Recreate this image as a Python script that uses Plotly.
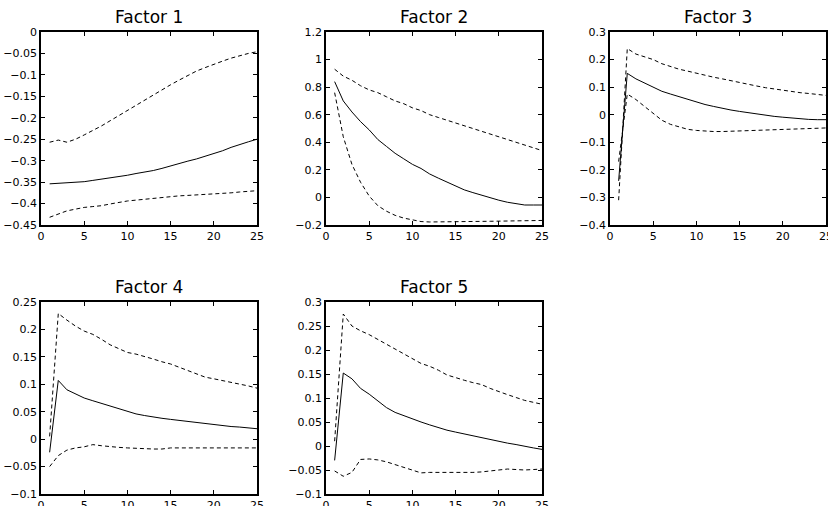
import plotly.graph_objects as go

steps = list(range(1, 26))

titles = ["Factor 1", "Factor 2", "Factor 3", "Factor 4", "Factor 5"]

f1_mid = [-0.354, -0.353, -0.352, -0.351, -0.349, -0.346, -0.343, -0.341, -0.338, -0.334,
          -0.330, -0.327, -0.323, -0.318, -0.312, -0.307, -0.301, -0.296, -0.290, -0.284,
          -0.277, -0.269, -0.262, -0.256, -0.250]
f1_up = [-0.257, -0.252, -0.257, -0.250, -0.240, -0.230, -0.219, -0.207, -0.195, -0.183,
         -0.170, -0.158, -0.146, -0.135, -0.123, -0.112, -0.101, -0.091, -0.083, -0.075,
         -0.068, -0.061, -0.055, -0.050, -0.046]
f1_lo = [-0.432, -0.424, -0.417, -0.413, -0.409, -0.407, -0.405, -0.401, -0.397, -0.394,
         -0.392, -0.390, -0.387, -0.385, -0.383, -0.382, -0.381, -0.380, -0.379, -0.378,
         -0.376, -0.375, -0.373, -0.371, -0.370]

f2_mid = [0.84, 0.70, 0.62, 0.55, 0.49, 0.42, 0.37, 0.32, 0.28, 0.24, 0.21, 0.17, 0.14,
          0.11, 0.08, 0.055, 0.035, 0.015, -0.005, -0.02, -0.035, -0.045, -0.055, -0.055, -0.055]
f2_up = [0.93, 0.88, 0.85, 0.81, 0.78, 0.76, 0.73, 0.70, 0.68, 0.65, 0.63, 0.60, 0.58,
         0.56, 0.54, 0.52, 0.50, 0.48, 0.46, 0.44, 0.42, 0.40, 0.38, 0.36, 0.34]
f2_lo = [0.76, 0.44, 0.24, 0.11, 0.01, -0.06, -0.10, -0.13, -0.15, -0.165, -0.175, -0.178,
         -0.178, -0.177, -0.177, -0.176, -0.175, -0.174, -0.173, -0.172, -0.171, -0.170,
         -0.169, -0.168, -0.167]

f3_mid = [-0.24, 0.15, 0.13, 0.115, 0.10, 0.085, 0.075, 0.065, 0.055, 0.045, 0.037, 0.030,
          0.023, 0.017, 0.012, 0.007, 0.002, -0.002, -0.006, -0.009, -0.012, -0.015, -0.017,
          -0.018, -0.018]
f3_up = [-0.31, 0.24, 0.22, 0.21, 0.20, 0.185, 0.175, 0.165, 0.158, 0.15, 0.143, 0.136, 0.13,
         0.123, 0.117, 0.11, 0.104, 0.098, 0.093, 0.088, 0.084, 0.08, 0.077, 0.073, 0.07]
f3_lo = [-0.17, 0.075, 0.055, 0.03, 0.005, -0.02, -0.035, -0.045, -0.053, -0.057, -0.06,
         -0.061, -0.061, -0.06, -0.058, -0.057, -0.056, -0.055, -0.054, -0.053, -0.052,
         -0.051, -0.05, -0.049, -0.048]

f4_mid = [-0.024, 0.107, 0.09, 0.083, 0.075, 0.07, 0.065, 0.06, 0.055, 0.05, 0.046, 0.043,
          0.04, 0.038, 0.036, 0.034, 0.032, 0.030, 0.028, 0.027, 0.025, 0.023, 0.022, 0.021, 0.019]
f4_up = [0.005, 0.229, 0.217, 0.206, 0.197, 0.191, 0.182, 0.172, 0.165, 0.158, 0.155, 0.151,
         0.146, 0.141, 0.137, 0.131, 0.125, 0.118, 0.113, 0.110, 0.107, 0.104, 0.101, 0.097, 0.093]
f4_lo = [-0.05, -0.03, -0.02, -0.016, -0.014, -0.01, -0.012, -0.014, -0.015, -0.016, -0.017,
         -0.017, -0.018, -0.018, -0.016, -0.016, -0.016, -0.017, -0.017, -0.016, -0.016,
         -0.016, -0.017, -0.016, -0.016]

f5_mid = [-0.03, 0.152, 0.14, 0.12, 0.108, 0.093, 0.08, 0.07, 0.063, 0.057, 0.05, 0.044, 0.038,
          0.033, 0.029, 0.025, 0.021, 0.017, 0.013, 0.009, 0.006, 0.003, -0.001, -0.004, -0.007]
f5_up = [0.01, 0.275, 0.25, 0.24, 0.232, 0.222, 0.212, 0.203, 0.193, 0.182, 0.172, 0.166,
         0.158, 0.148, 0.142, 0.137, 0.132, 0.128, 0.12, 0.113, 0.107, 0.101, 0.095, 0.091, 0.087]
f5_lo = [-0.052, -0.063, -0.055, -0.028, -0.027, -0.029, -0.033, -0.039, -0.045, -0.051,
         -0.056, -0.055, -0.055, -0.055, -0.056, -0.056, -0.055, -0.054, -0.052, -0.050,
         -0.048, -0.049, -0.050, -0.049, -0.048]

y_ranges = [(-0.45, 0), (-0.2, 1.2), (-0.4, 0.3), (-0.1, 0.25), (-0.1, 0.3)]
y_dticks = [0.05, 0.2, 0.1, 0.05, 0.05]

series = [(f1_mid, f1_up, f1_lo), (f2_mid, f2_up, f2_lo), (f3_mid, f3_up, f3_lo),
          (f4_mid, f4_up, f4_lo), (f5_mid, f5_up, f5_lo)]

W, H = 828, 506
col_px = [(41, 257), (326, 542), (610, 826)]
row_px = [(32, 225), (302, 494)]
positions = [(0, 0), (0, 1), (0, 2), (1, 0), (1, 1)]

fig = go.Figure()
font = "DejaVu Sans, Arial, Helvetica, sans-serif"

for i, ((mid, up, lo), (r, c)) in enumerate(zip(series, positions)):
    n = i + 1
    xa = "x" if n == 1 else f"x{n}"
    ya = "y" if n == 1 else f"y{n}"
    for vals, dash in ((up, "4px,3px"), (lo, "4px,3px"), (mid, "solid")):
        fig.add_trace(go.Scatter(x=steps, y=vals, mode="lines", xaxis=xa, yaxis=ya,
                                 line=dict(color="black", width=1, dash=dash),
                                 showlegend=False, hoverinfo="skip"))
    x0, x1 = col_px[c]
    y0, y1 = row_px[r]
    axis_common = dict(showline=True, linecolor="black", linewidth=1.5, mirror="allticks",
                       ticks="inside", ticklen=4, tickcolor="black", tickwidth=1,
                       showgrid=False, zeroline=False, automargin=False,
                       ticklabeloverflow="allow",
                       tickfont=dict(family=font, size=11, color="black"))
    fig.layout[f"xaxis{'' if n == 1 else n}"] = dict(
        domain=[x0 / W, x1 / W], range=[0, 25], tick0=0, dtick=5,
        anchor=ya, **axis_common)
    lo_r, hi_r = y_ranges[i]
    fig.layout[f"yaxis{'' if n == 1 else n}"] = dict(
        domain=[1 - y1 / H, 1 - y0 / H], range=[lo_r, hi_r], tick0=lo_r,
        dtick=y_dticks[i], anchor=xa, tickformat="~g", **axis_common)
    fig.add_annotation(text=titles[i], xref=f"{xa} domain", yref=f"{ya} domain",
                       x=0.5, y=1, xanchor="center", yanchor="bottom", yshift=3,
                       showarrow=False, font=dict(family=font, size=17, color="black"))

fig.update_layout(width=W, height=H, margin=dict(l=0, r=0, t=0, b=0),
                  plot_bgcolor="white", paper_bgcolor="white")

fig.write_html("out.html", config={"displayModeBar": False},
               post_script="document.body.style.margin='0';document.body.style.overflow='hidden';")
